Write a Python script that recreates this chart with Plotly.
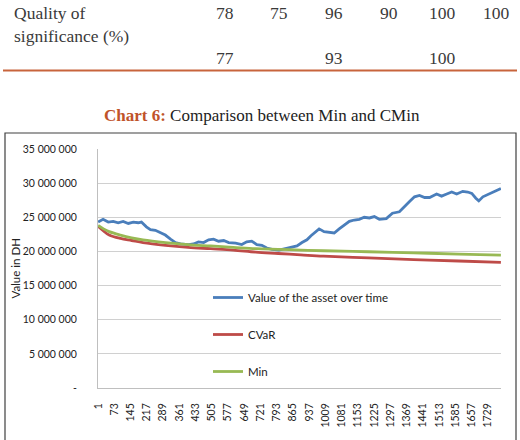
import plotly.graph_objects as go

# ---- data ----
asset_idx = [1, 10, 23, 46, 68, 90, 112, 135, 157, 179, 193, 215, 233, 255, 277, 299, 322, 344,
             366, 402, 424, 446, 469, 491, 513, 535, 558, 580, 611, 638, 660, 682, 705, 727, 749,
             772, 803, 834, 861, 883, 905, 927, 945, 963, 981, 1003, 1025, 1048, 1070, 1092, 1115,
             1137, 1159, 1181, 1204, 1226, 1248, 1279, 1306, 1337, 1360, 1382, 1404, 1426, 1449,
             1471, 1502, 1524, 1547, 1569, 1591, 1618, 1640, 1658, 1676, 1689, 1707, 1729, 1751,
             1769, 1787]
asset_val = [24.3, 24.5, 24.7, 24.3, 24.4, 24.2, 24.4, 24.1, 24.3, 24.2, 24.3, 23.6, 23.2, 23.1,
             22.7, 22.4, 21.8, 21.3, 21.1, 21.0, 21.1, 21.4, 21.3, 21.7, 21.8, 21.5, 21.6, 21.3,
             21.2, 21.0, 21.4, 21.5, 21.0, 20.9, 20.5, 20.3, 20.2, 20.4, 20.6, 20.8, 21.3, 21.7,
             22.3, 22.8, 23.3, 22.9, 22.8, 22.7, 23.3, 23.9, 24.4, 24.6, 24.7, 25.0, 24.9, 25.1,
             24.7, 24.8, 25.6, 25.8, 26.5, 27.3, 28.0, 28.2, 27.9, 27.9, 28.4, 28.1, 28.4, 28.7,
             28.4, 28.8, 28.7, 28.5, 27.8, 27.4, 28.0, 28.3, 28.7, 28.9, 29.2]

risk_idx = [1, 25, 50, 100, 150, 200, 300, 400, 500, 600, 700, 800, 900, 1000, 1200, 1400, 1600, 1787]
cvar_val = [23.7, 23.0, 22.4, 21.9, 21.6, 21.3, 20.9, 20.6, 20.4, 20.2, 19.9, 19.7, 19.5, 19.3,
            19.05, 18.8, 18.6, 18.4]
min_val = [23.8, 23.3, 22.9, 22.4, 22.0, 21.7, 21.3, 21.0, 20.8, 20.6, 20.4, 20.3, 20.2, 20.1,
           19.95, 19.8, 19.6, 19.45]

x_ticks = list(range(1, 1730, 72))
y_ticks = [0, 5e6, 10e6, 15e6, 20e6, 25e6, 30e6, 35e6]
y_tick_text = ["-", "5 000 000", "10 000 000", "15 000 000", "20 000 000",
               "25 000 000", "30 000 000", "35 000 000"]

series_names = ["Value of the asset over time", "CVaR", "Min"]
colors = ["#4A7EBB", "#BE4B48", "#98B954"]

row1_vals = ["78", "75", "96", "90", "100", "100"]
row2_vals = ["77", "", "93", "", "100", ""]

# ---- figure ----
M = 1e6
fig = go.Figure()
fig.add_trace(go.Scatter(x=asset_idx, y=[v * M for v in asset_val], mode="lines",
                         name=series_names[0], legendgroup="a",
                         line=dict(color=colors[0], width=2.8)))
fig.add_trace(go.Scatter(x=risk_idx, y=[v * M for v in cvar_val], mode="lines",
                         name=series_names[1], legendgroup="b", line_shape="spline",
                         line=dict(color=colors[1], width=2.8)))
fig.add_trace(go.Scatter(x=risk_idx, y=[v * M for v in min_val], mode="lines",
                         name=series_names[2], legendgroup="c", line_shape="spline",
                         line=dict(color=colors[2], width=2.8)))

W, H = 520, 440
L, R, T, B = 98, 19, 149, 52
pw, ph = W - L - R, H - T - B


def px(x):
    return (x - L) / pw


def py(y):
    return (H - B - y) / ph


tick_font = dict(family="Lato, Liberation Sans", size=10.5, color="#222")

fig.update_layout(
    width=W, height=H,
    margin=dict(l=L, r=R, t=T, b=B, pad=0, autoexpand=False),
    paper_bgcolor="white", plot_bgcolor="white",
    showlegend=True,
    legend=dict(x=px(208), y=py(283), xanchor="left", yanchor="top",
                bgcolor="rgba(0,0,0,0)", tracegroupgap=18,
                font=dict(family="Lato, Liberation Sans", size=11.5, color="#222")),
    xaxis=dict(range=[0.5, 1787.5], tickmode="array", tickvals=x_ticks,
               ticktext=[str(v) for v in x_ticks], tickangle=-90, showgrid=False,
               showline=True, linecolor="#BFBFBF", linewidth=1, ticks="",
               ticklabelstandoff=10, tickfont=tick_font, zeroline=False, automargin=False),
    yaxis=dict(range=[0, 35e6], tickmode="array", tickvals=y_ticks, ticktext=y_tick_text,
               showgrid=True, gridcolor="#D0D0D0", gridwidth=1, showline=True,
               linecolor="#BFBFBF", linewidth=1, ticks="", ticklabelstandoff=18,
               tickfont=tick_font, zeroline=False, automargin=False),
)

# y axis title
fig.add_annotation(xref="paper", yref="paper", x=px(15), y=0.5, xanchor="center",
                   yanchor="middle", text="Value in DH", textangle=-90, showarrow=False,
                   font=dict(family="Lato, Liberation Sans", size=11.5, color="#222"))

# chart border box
fig.add_shape(type="rect", xref="paper", yref="paper",
              x0=px(5), x1=px(516), y0=py(448), y1=py(133),
              line=dict(color="#404040", width=1.2), fillcolor="rgba(0,0,0,0)", layer="below")

# document text above the chart
serif = "Liberation Serif, Times New Roman, serif"
txt = "#3a3a3a"
fig.add_annotation(xref="paper", yref="paper", x=px(12), y=py(13), xanchor="left",
                   yanchor="middle", text="Quality of", showarrow=False,
                   font=dict(family=serif, size=17.5, color=txt))
fig.add_annotation(xref="paper", yref="paper", x=px(12), y=py(36), xanchor="left",
                   yanchor="middle", text="significance (%)", showarrow=False,
                   font=dict(family=serif, size=17.5, color=txt))
col_x = [225, 279, 334, 389, 442, 496]
for cx, v in zip(col_x, row1_vals):
    fig.add_annotation(xref="paper", yref="paper", x=px(cx), y=py(13), xanchor="center",
                       yanchor="middle", text=v, showarrow=False,
                       font=dict(family=serif, size=17.5, color=txt))
for cx, v in zip(col_x, row2_vals):
    if v:
        fig.add_annotation(xref="paper", yref="paper", x=px(cx), y=py(58), xanchor="center",
                           yanchor="middle", text=v, showarrow=False,
                           font=dict(family=serif, size=17.5, color=txt))
fig.add_shape(type="line", xref="paper", yref="paper", x0=px(3), x1=px(517),
              y0=py(70.5), y1=py(70.5), line=dict(color="#C8643C", width=2))

fig.add_annotation(xref="paper", yref="paper", x=px(262), y=py(115), xanchor="center",
                   yanchor="middle", showarrow=False,
                   text="<b><span style='color:#C0532A'>Chart 6:</span></b> Comparison between Min and CMin",
                   font=dict(family=serif, size=17, color="#222"))

fig.write_html("out.html")
